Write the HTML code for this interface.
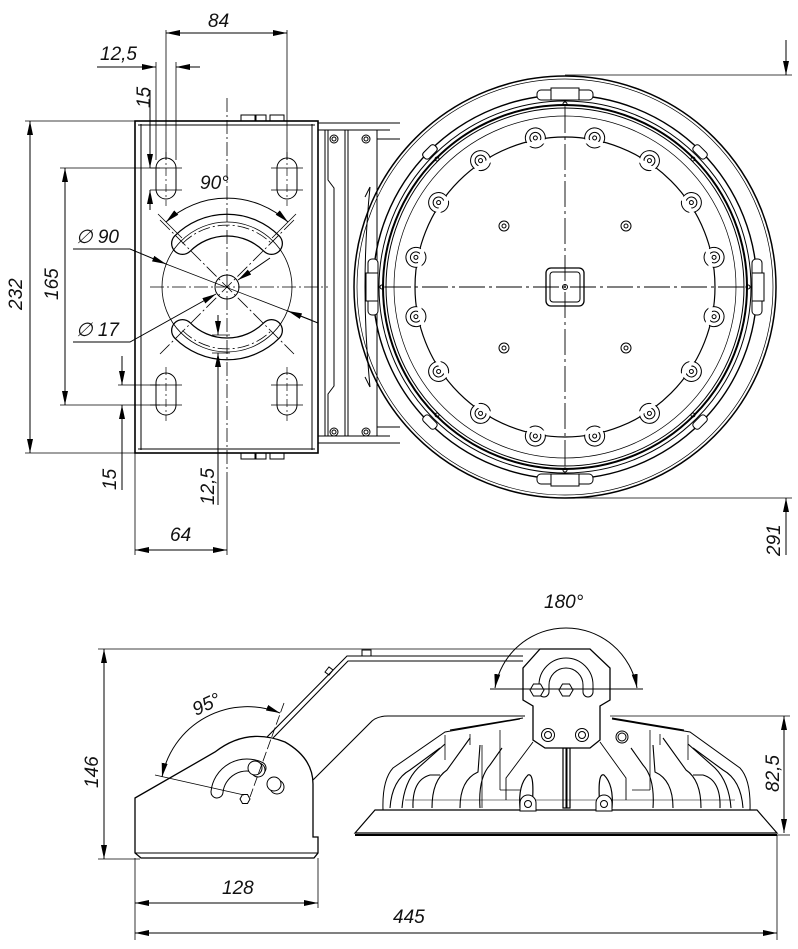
<!DOCTYPE html>
<html><head><meta charset="utf-8"><style>
html,body{margin:0;padding:0;background:#fff}
svg{display:block}
text{font-family:"Liberation Sans",sans-serif;font-style:italic;font-size:19px;fill:#111}
</style></head><body>
<svg width="798" height="949" viewBox="0 0 798 949" xmlns="http://www.w3.org/2000/svg">
<defs>
<marker id="a" viewBox="0 0 14 6" refX="14" refY="3" markerWidth="14" markerHeight="6" markerUnits="userSpaceOnUse" orient="auto"><path d="M0,0 L14,3 L0,6 Z" fill="#000"/></marker>
<marker id="b" viewBox="0 0 14 6" refX="0" refY="3" markerWidth="14" markerHeight="6" markerUnits="userSpaceOnUse" orient="auto"><path d="M14,0 L0,3 L14,6 Z" fill="#000"/></marker>
</defs>
<g fill="none" stroke="#000" stroke-width="1">
<!-- ================= TOP VIEW ================= -->
<!-- plate -->
<rect x="135" y="121" width="183" height="332" stroke-width="1.6"/>
<line x1="141" y1="124" x2="141" y2="450"/>
<line x1="312" y1="124" x2="312" y2="450"/>
<line x1="138" y1="125" x2="315" y2="125"/>
<line x1="138" y1="449" x2="315" y2="449"/>
<rect x="241" y="115" width="14" height="6"/><rect x="256" y="115" width="10" height="6"/><rect x="270" y="115" width="14" height="6"/>
<rect x="241" y="453" width="14" height="6"/><rect x="256" y="453" width="10" height="6"/><rect x="270" y="453" width="14" height="6"/>
<!-- bracket -->
<line x1="318" y1="123" x2="400" y2="123"/><line x1="318" y1="130" x2="390" y2="130"/>
<line x1="318" y1="443" x2="400" y2="443"/><line x1="318" y1="436" x2="390" y2="436"/>
<line x1="325" y1="130" x2="325" y2="436"/>
<path d="M328,130 L328,180 L334,188 L334,386 L328,394 L328,436"/>
<line x1="345" y1="130" x2="345" y2="436"/><line x1="348" y1="130" x2="348" y2="436"/>
<line x1="377" y1="130" x2="377" y2="436"/>
<line x1="377" y1="139" x2="400" y2="139"/><line x1="377" y1="427" x2="400" y2="427"/>
<circle cx="334" cy="139" r="4"/><circle cx="334" cy="139" r="2"/>
<circle cx="366" cy="139" r="4"/><circle cx="366" cy="139" r="2"/>
<circle cx="334" cy="432" r="4"/><circle cx="334" cy="432" r="2"/>
<circle cx="366" cy="432" r="4"/><circle cx="366" cy="432" r="2"/>
<!-- slots -->
<rect x="156" y="158" width="20" height="41" rx="10"/>
<rect x="277" y="158" width="20" height="41" rx="10"/>
<rect x="156" y="373" width="20" height="42" rx="10"/>
<rect x="277" y="373" width="20" height="42" rx="10"/>
<g stroke-width="0.7">
<path d="M150,168 h32 M150,190 h32 M271,168 h32 M271,190 h32 M150,385 h32 M150,405 h32 M271,385 h32 M271,405 h32"/>
<path d="M166,152 v54 M287,152 v54 M166,367 v54 M287,367 v54" stroke-dasharray="8,3,2,3"/>
</g>
<!-- arc slots -->
<path d="M182.5,243.5 A63,63 0 0 1 271.5,243.5" stroke="#000" stroke-width="23" stroke-linecap="round"/>
<path d="M182.5,243.5 A63,63 0 0 1 271.5,243.5" stroke="#fff" stroke-width="20.5" stroke-linecap="round"/>
<path d="M182.5,330.5 A63,63 0 0 0 271.5,330.5" stroke="#000" stroke-width="23" stroke-linecap="round"/>
<path d="M182.5,330.5 A63,63 0 0 0 271.5,330.5" stroke="#fff" stroke-width="20.5" stroke-linecap="round"/>
<path d="M182.5,243.5 A63,63 0 0 1 271.5,243.5 M182.5,330.5 A63,63 0 0 0 271.5,330.5" stroke-width="0.8" stroke-dasharray="12,3,2,3"/>
<circle cx="227" cy="287" r="65" stroke-width="0.8"/>
<circle cx="227" cy="287" r="12"/>
<path d="M227,98 V480 M150,287 H328 M160,220 L294,354 M294,220 L160,354" stroke-width="0.8" stroke-dasharray="14,3,2,3"/>
<!-- 90 deg -->
<path d="M166,222 A90,90 0 0 1 288,222" marker-start="url(#b)" marker-end="url(#a)"/>
<line x1="158" y1="214" x2="182" y2="238" stroke-width="0.8"/><line x1="296" y1="214" x2="272" y2="238" stroke-width="0.8"/>
<!-- ø90 leader -->
<path d="M73,249 H130 L166,264" marker-end="url(#a)"/>
<line x1="166" y1="264" x2="311" y2="320" stroke-width="0.8"/>
<line x1="318" y1="323" x2="288" y2="311" marker-end="url(#a)"/>
<!-- ø17 leader -->
<path d="M73,342 H130 L216,294" marker-end="url(#a)"/>
<line x1="270" y1="258" x2="238" y2="280" marker-end="url(#a)"/>
<!-- dims top view -->
<line x1="166" y1="30" x2="166" y2="160" stroke-width="0.8"/>
<line x1="287" y1="30" x2="287" y2="160" stroke-width="0.8"/>
<line x1="166" y1="33" x2="287" y2="33" marker-start="url(#b)" marker-end="url(#a)"/>
<line x1="156" y1="62" x2="156" y2="160" stroke-width="0.8"/><line x1="176" y1="62" x2="176" y2="160" stroke-width="0.8"/>
<line x1="97" y1="67" x2="156" y2="67" marker-end="url(#a)"/><line x1="200" y1="67" x2="176" y2="67" marker-end="url(#a)"/>
<line x1="150" y1="90" x2="150" y2="168" marker-end="url(#a)"/><line x1="150" y1="210" x2="150" y2="190" marker-end="url(#a)"/>
<line x1="25" y1="121" x2="135" y2="121" stroke-width="0.8"/><line x1="25" y1="453" x2="135" y2="453" stroke-width="0.8"/>
<line x1="30" y1="121" x2="30" y2="453" marker-start="url(#b)" marker-end="url(#a)"/>
<line x1="60" y1="168" x2="160" y2="168" stroke-width="0.8"/><line x1="60" y1="405" x2="160" y2="405" stroke-width="0.8"/>
<line x1="65" y1="168" x2="65" y2="405" marker-start="url(#b)" marker-end="url(#a)"/>
<line x1="118" y1="385" x2="160" y2="385" stroke-width="0.8"/>
<line x1="122" y1="356" x2="122" y2="385" marker-end="url(#a)"/><line x1="122" y1="490" x2="122" y2="405" marker-end="url(#a)"/>
<line x1="212" y1="335" x2="230" y2="335" stroke-width="0.8"/><line x1="212" y1="353" x2="230" y2="353" stroke-width="0.8"/>
<line x1="218" y1="315" x2="218" y2="335" marker-end="url(#a)"/><line x1="218" y1="505" x2="218" y2="353" marker-end="url(#a)"/>
<line x1="135" y1="453" x2="135" y2="555" stroke-width="0.8"/><line x1="227" y1="480" x2="227" y2="555" stroke-width="0.8"/>
<line x1="135" y1="550" x2="227" y2="550" marker-start="url(#b)" marker-end="url(#a)"/>
<line x1="565" y1="75" x2="792" y2="75" stroke-width="0.8"/><line x1="565" y1="498" x2="792" y2="498" stroke-width="0.8"/>
<line x1="786" y1="40" x2="786" y2="75" marker-end="url(#a)"/><line x1="786" y1="555" x2="786" y2="498" marker-end="url(#a)"/>
<!-- big circle -->
<g transform="translate(565,287)">
<path d="M-200,-90 L-195,-100 M-200,90 L-195,100" />
<path d="M-195,-100 Q-205,0 -195,100" stroke-width="1"/>
<circle r="211" stroke-width="1.5"/><circle r="208" stroke-width="0.7"/>
<circle r="192" stroke-width="1.4"/><circle r="186"/><circle r="182" stroke-width="2"/><circle r="179"/><circle r="171" stroke-width="0.7"/>
<circle r="150" stroke-width="1.2"/>
<g id="bolts">
<g transform="rotate(11.25)"><circle cy="-152" r="10" fill="#fff"/><circle cy="-152" r="5.5"/><circle cy="-152" r="2"/></g>
<g transform="rotate(33.75)"><circle cy="-152" r="10" fill="#fff"/><circle cy="-152" r="5.5"/><circle cy="-152" r="2"/></g>
<g transform="rotate(56.25)"><circle cy="-152" r="10" fill="#fff"/><circle cy="-152" r="5.5"/><circle cy="-152" r="2"/></g>
<g transform="rotate(78.75)"><circle cy="-152" r="10" fill="#fff"/><circle cy="-152" r="5.5"/><circle cy="-152" r="2"/></g>
</g>
<use href="#bolts" transform="rotate(90)"/><use href="#bolts" transform="rotate(180)"/><use href="#bolts" transform="rotate(270)"/>
<circle r="147" stroke="#fff" stroke-width="4"/>
<g id="tab"><rect x="-28" y="-197" width="56" height="10" rx="4" fill="#fff"/><rect x="-14" y="-199" width="28" height="12" fill="#fff"/><circle cy="-183" r="2"/></g>
<use href="#tab" transform="rotate(90)"/><use href="#tab" transform="rotate(180)"/><use href="#tab" transform="rotate(270)"/>
<g id="tab2"><rect x="-8" y="-195" width="16" height="8" rx="3" fill="#fff" transform="rotate(45)"/><circle cx="128" cy="-128" r="2" transform="rotate(0)"/></g>
<use href="#tab2" transform="rotate(90)"/><use href="#tab2" transform="rotate(180)"/><use href="#tab2" transform="rotate(270)"/>
<g transform="rotate(-90)"><rect x="-8" y="-195" width="16" height="8" rx="3" fill="#fff" transform="rotate(45)"/></g>
<circle cx="-61" cy="-61" r="5"/><circle cx="-61" cy="-61" r="2"/>
<circle cx="61" cy="-61" r="5"/><circle cx="61" cy="-61" r="2"/>
<circle cx="-61" cy="61" r="5"/><circle cx="-61" cy="61" r="2"/>
<circle cx="61" cy="61" r="5"/><circle cx="61" cy="61" r="2"/>
<rect x="-19" y="-19" width="38" height="38" rx="5" stroke-width="1.3"/>
<rect x="-15" y="-15" width="30" height="30" rx="3"/>
<circle r="2.5"/>
<path d="M0,-180 V180 M-180,0 H180" stroke-width="0.9" stroke-dasharray="26,4,3,4"/>
</g>
<!-- ================= SIDE VIEW ================= -->
<!-- bracket -->
<path d="M135,798 L215,752 Q247,727 285,742 Q313,758 313,784 L313,837 L318,837 L318,853 L314,858 L141,858 L135,853 Z" stroke-width="1.3"/>
<line x1="135" y1="853" x2="318" y2="853"/>
<!-- slot in bracket -->
<path d="M217,792 A30,30 0 0 1 260,768" stroke="#000" stroke-width="13" stroke-linecap="round"/>
<path d="M217,792 A30,30 0 0 1 260,768" stroke="#fff" stroke-width="11" stroke-linecap="round"/>
<circle cx="258" cy="770" r="7" fill="#fff"/><circle cx="255" cy="768" r="7" fill="#fff"/>
<circle cx="277" cy="787" r="7" fill="#fff"/><circle cx="274" cy="784" r="7" fill="#fff"/>
<polygon points="242,799 244.5,794.5 249.5,794.5 252,799 249.5,803.5 244.5,803.5" transform="translate(-2,0) scale(1)"/>
<!-- arm -->
<path d="M267,737 L347,656 L523,656 M273,738 L348,661 L523,661" stroke-width="1.1"/>
<rect x="362" y="650" width="9" height="6"/>
<path d="M325,672 l4,-5 l4,3 l-4,5 z"/>
<!-- lamp hat line -->
<path d="M313,780 L370,723 Q376,716 388,716 L525,716" stroke-width="1.1"/>
<line x1="610" y1="716" x2="790" y2="716" stroke-width="0.8"/>
<!-- 95 deg -->
<path d="M162,777 A87,87 0 0 1 280,713" marker-start="url(#b)" marker-end="url(#a)"/>
<line x1="155" y1="775" x2="244" y2="795" stroke-width="0.8"/>
<line x1="284" y1="703" x2="250" y2="797" stroke-width="0.8" stroke-dasharray="10,3"/>
<!-- lamp body -->
<path d="M355,833 L777,833 L757,810 L375,810 Z" stroke-width="1.2"/>
<line x1="355" y1="835" x2="777" y2="835" stroke-width="2"/>
<path d="M383,810 Q382,780 393,768 L445,732 L520,719 M450,730 L523,718" />
<path d="M750,810 Q751,780 740,768 L690,732 L612,719 M684,730 L612,718" />
<g stroke-width="1.1">
<path d="M390,808 Q392,780 410,770 L440,748"/>
<path d="M402,808 Q404,782 418,768 L445,744"/>
<path d="M413,808 Q412,780 430,775 L440,775"/>
<path d="M432,808 Q432,780 447,770 L470,738"/>
<path d="M460,808 Q460,780 478,772 L480,745"/>
<path d="M480,808 Q478,778 490,765 L502,748"/>
<path d="M743,808 Q741,780 723,770 L693,748"/>
<path d="M731,808 Q729,782 715,768 L688,744"/>
<path d="M720,808 Q721,780 703,775 L693,775"/>
<path d="M701,808 Q701,780 686,770 L663,738"/>
<path d="M673,808 Q673,780 655,772 L653,745"/>
<path d="M653,808 Q655,778 643,765 L631,748"/>
<path d="M405,800 L735,800" stroke-width="0.6"/>
<path d="M482,745 V808 M500,730 V790 M500,790 H520 M632,790 H650 M650,730 V790 M470,734 V745 M445,735 V760 M688,735 V760 M660,734 V745" stroke-width="0.8"/>
</g>
<!-- center bits -->
<path d="M533,742 L506,778 L506,800 M600,742 L626,778 L626,800" stroke-width="0.9"/>
<path d="M520,808 Q518,785 528,775 Q535,772 532,808 M612,808 Q614,785 604,775 Q597,772 600,808" stroke-width="1.2"/>
<rect x="563" y="748" width="7" height="60" stroke-width="1.2"/>
<line x1="566.5" y1="748" x2="566.5" y2="808" stroke-width="2"/>
<path d="M520,803 a8,8 0 0 1 16,0 l0,8 l-16,0 z" fill="#fff"/><circle cx="528" cy="804" r="3.5"/>
<path d="M596,803 a8,8 0 0 1 16,0 l0,8 l-16,0 z" fill="#fff"/><circle cx="604" cy="804" r="3.5"/>
<circle cx="622" cy="737" r="6" fill="#fff"/><circle cx="622" cy="737" r="4"/>
<!-- hanger -->
<path d="M540,649 L590,649 L610,668 L610,700 L600,706 L600,740 L590,748 L545,748 L533,740 L533,706 L523,700 L523,668 Z" fill="#fff" stroke-width="1.3"/>
<path d="M544,692 L544,685 A22,22 0 0 1 588,685 L588,692" stroke="#000" stroke-width="11" stroke-linecap="round"/>
<path d="M544,692 L544,685 A22,22 0 0 1 588,685 L588,692" stroke="#fff" stroke-width="9" stroke-linecap="round"/>
<polygon points="530,690 533.5,684 540.5,684 544,690 540.5,696 533.5,696" fill="#fff"/>
<polygon points="559,690 562.5,684 569.5,684 573,690 569.5,696 562.5,696" fill="#fff"/>
<circle cx="548" cy="735" r="6.5"/><circle cx="548" cy="735" r="3.5"/>
<circle cx="582" cy="735" r="6.5"/><circle cx="582" cy="735" r="3.5"/>
<!-- 180 deg -->
<line x1="490" y1="689" x2="643" y2="689" stroke-width="0.9"/>
<path d="M495,688 A72,72 0 0 1 637,688" marker-start="url(#b)" marker-end="url(#a)"/>
<!-- side dims -->
<line x1="98" y1="649" x2="540" y2="649" stroke-width="0.8"/>
<line x1="98" y1="859" x2="140" y2="859" stroke-width="0.8"/>
<line x1="104" y1="649" x2="104" y2="859" marker-start="url(#b)" marker-end="url(#a)"/>
<line x1="784" y1="716" x2="784" y2="833" marker-start="url(#b)" marker-end="url(#a)"/>
<line x1="777" y1="835" x2="790" y2="835" stroke-width="0.8"/>
<line x1="135" y1="858" x2="135" y2="940" stroke-width="0.8"/>
<line x1="318" y1="858" x2="318" y2="908" stroke-width="0.8"/>
<line x1="777" y1="835" x2="777" y2="940" stroke-width="0.8"/>
<line x1="135" y1="903" x2="318" y2="903" marker-start="url(#b)" marker-end="url(#a)"/>
<line x1="135" y1="933" x2="777" y2="933" marker-start="url(#b)" marker-end="url(#a)"/>
</g>
<!-- labels -->
<text x="208" y="27">84</text>
<text x="100" y="60">12,5</text>
<text transform="translate(150,108) rotate(-90)">15</text>
<text x="200" y="189">90°</text>
<text x="76" y="243">∅ 90</text>
<text x="76" y="336">∅ 17</text>
<text transform="translate(22,310) rotate(-90)">232</text>
<text transform="translate(58,300) rotate(-90)">165</text>
<text transform="translate(116,490) rotate(-90)">15</text>
<text transform="translate(214,505) rotate(-90)">12,5</text>
<text x="170" y="541">64</text>
<text transform="translate(780,556) rotate(-90)">291</text>
<text x="544" y="608">180°</text>
<text transform="translate(196,716) rotate(-25)">95°</text>
<text transform="translate(98,788) rotate(-90)">146</text>
<text transform="translate(779,792) rotate(-90)">82,5</text>
<text x="222" y="894">128</text>
<text x="393" y="923">445</text>
</svg>
</body></html>
